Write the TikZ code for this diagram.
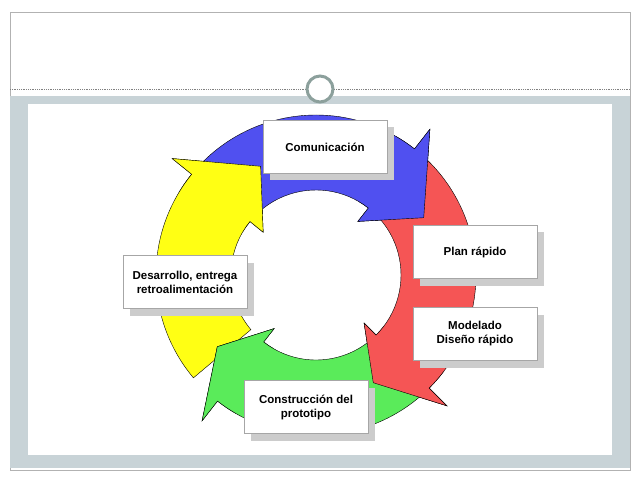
\documentclass[tikz,border=0pt]{standalone}
\usepackage{fontspec}
\setmainfont{Liberation Sans}
\usetikzlibrary{calc}
\definecolor{band}{RGB}{200,211,215}
\definecolor{ringc}{RGB}{140,160,156}
\definecolor{cblue}{RGB}{80,80,240}
\definecolor{cred}{RGB}{245,85,85}
\definecolor{cgreen}{RGB}{90,235,90}
\definecolor{cyellow}{RGB}{255,255,20}
\begin{document}
\begin{tikzpicture}[x=1pt,y=1pt,
  box/.style={draw=gray!70,fill=white,minimum width=124pt,minimum height=53pt,align=center,font=\bfseries\fontsize{11.5}{14}\selectfont},
  shad/.style={fill=gray!40,minimum width=124pt,minimum height=53pt}]
\useasboundingbox (0,0) rectangle (640,480);
\fill[white] (0,0) rectangle (640,480);
\draw[gray!60] (10,10) rectangle (630,468);
\fill[band] (10,12) rectangle (630,384);
\fill[white] (28,25) rectangle (612,376);
\draw[gray,densely dotted,line width=0.8pt] (10,391) -- (630,391);
\node[circle,draw=ringc,line width=3pt,fill=white,minimum size=26pt,inner sep=0pt] (ring) at (320,391) {};
\coordinate (C) at (316,205);
\newcommand{\arw}[3]{($(C)+(#1:160)$) arc[start angle=#1,end angle=#2,radius=160] -- ($(C)+(#2:185)$) -- ($(C)+(#3:122)$) -- ($(C)+(#2:68)$) -- ($(C)+(#2:85)$) arc[start angle=#2,end angle=#1,radius=85] -- cycle}
\newcommand{\hd}[2]{($(C)+(#1+8:160)$) arc[start angle=#1+8,end angle=#1,radius=160] -- ($(C)+(#1:185)$) -- ($(C)+(#2:122)$) -- ($(C)+(#1:68)$) -- ($(C)+(#1:85)$) arc[start angle=#1,end angle=#1+8,radius=85]}
\draw[fill=cyellow] \arw{220}{141}{117};
\draw[fill=cblue] \arw{146}{52}{28};
\draw[fill=cred] \arw{52}{-45}{-62};
\draw[fill=cgreen] \arw{-45}{-128}{-144};
\draw[fill=cyellow] \hd{141}{117};
\draw[fill=cblue] \hd{52}{28};
\draw[fill=cred] \hd{-45}{-62};
\draw[fill=cgreen] \hd{-128}{-144};
\foreach \n/\x/\y/\t in {com/325/333/Comunicación, plan/475/228/Plan rápido, mod/475/146/{Modelado\\Diseño rápido}, con/306/73/{Construcción del\\prototipo}, des/185/198/{Desarrollo, entrega\\retroalimentación}}{
  \node[shad] (\n s) at (\x+7,\y-7) {};
  \node[box] (\n) at (\x,\y) {\t};
}
\end{tikzpicture}
\end{document}
